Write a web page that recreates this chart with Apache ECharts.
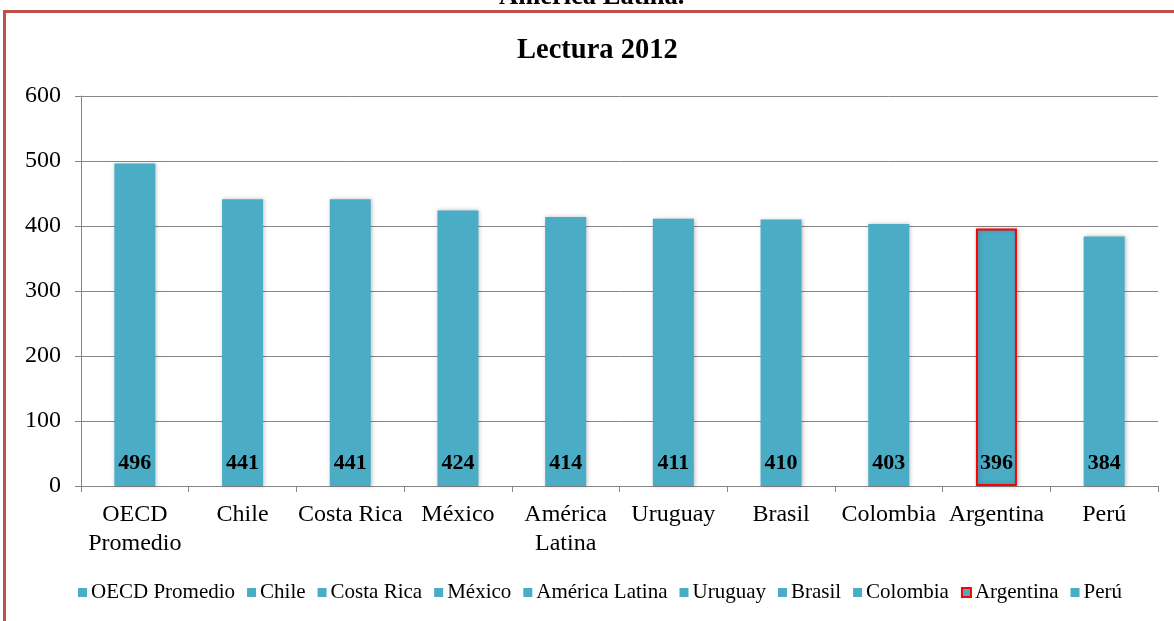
<!DOCTYPE html>
<html>
<head>
<meta charset="utf-8">
<script src="https://cdn.jsdelivr.net/npm/echarts@6/dist/echarts.min.js"></script>
<style>
    html, body { margin: 0; padding: 0; background: #fff; }
    #chart { width: 1174px; height: 621px; }
</style>
</head>
<body>
<div id="chart"></div>
<script>
let categories = ["OECD Promedio", "Chile", "Costa Rica", "México", "América Latina", "Uruguay", "Brasil", "Colombia", "Argentina", "Perú"];
let axisLabels = ["OECD\nPromedio", "Chile", "Costa Rica", "México", "América\nLatina", "Uruguay", "Brasil", "Colombia", "Argentina", "Perú"];
let scores = [496, 441, 441, 424, 414, 411, 410, 403, 396, 384];
let highlighted = "Argentina";

let font = "'Liberation Serif', 'Times New Roman', serif";
let barColor = "#4bacc6";

let chart = echarts.init(document.getElementById("chart"));

// one series per country so the legend lists each of them
let series = categories.map((name, i) => {
    let data = categories.map((c, j) => (j === i ? scores[i] : null));
    return {
        name: name,
        type: "bar",
        stack: "all",
        barWidth: 41,
        data: data,
        itemStyle: {
            color: barColor,
            borderColor: name === highlighted ? "#ff0000" : barColor,
            borderWidth: name === highlighted ? 2 : 0,
            shadowColor: "rgba(0,0,0,0.25)",
            shadowBlur: 4,
            shadowOffsetX: 1,
            shadowOffsetY: 0
        },
        label: {
            show: true,
            position: "insideBottom",
            distance: 12,
            color: "#000",
            fontFamily: font,
            fontWeight: "bold",
            fontSize: 22
        }
    };
});

let option = {
    animation: false,
    backgroundColor: "#fff",
    title: {
        text: "Lectura 2012",
        left: 512,
        top: 31,
        textStyle: {
            fontFamily: font,
            fontWeight: "bold",
            fontSize: 28.5,
            color: "#000"
        }
    },
    graphic: [
        {
            type: "text",
            left: 499,
            top: -16,
            style: {
                text: "América Latina.",
                font: "bold 26.5px " + font,
                fill: "#000"
            }
        },
        {
            type: "polyline",
            shape: { points: [[4.5, 621], [4.5, 11.5], [1174, 11.5]] },
            style: { stroke: "#c0504d", lineWidth: 3, fill: null }
        }
    ],
    legend: {
        data: categories,
        bottom: 13,
        left: 73,
        icon: "rect",
        itemWidth: 9,
        itemHeight: 9,
        itemGap: 12,
        textStyle: {
            fontFamily: font,
            fontSize: 21,
            color: "#000",
            padding: [0, 0, 0, -1]
        }
    },
    grid: {
        left: 81,
        right: 16,
        top: 96,
        bottom: 135
    },
    xAxis: {
        type: "category",
        data: axisLabels,
        axisLine: { lineStyle: { color: "#868686", width: 1 } },
        axisTick: { show: true, length: 6, lineStyle: { color: "#868686" } },
        axisLabel: {
            color: "#000",
            fontFamily: font,
            fontSize: 24,
            lineHeight: 29,
            margin: 14,
            interval: 0
        }
    },
    yAxis: {
        type: "value",
        min: 0,
        max: 600,
        interval: 100,
        axisLine: { show: true, lineStyle: { color: "#868686", width: 1 } },
        axisTick: { show: true, length: 6, lineStyle: { color: "#868686" } },
        splitLine: { lineStyle: { color: "#868686", width: 1 } },
        axisLabel: {
            color: "#000",
            fontFamily: font,
            fontSize: 24,
            margin: 20
        }
    },
    series: series
};

chart.setOption(option);
</script>
</body>
</html>
